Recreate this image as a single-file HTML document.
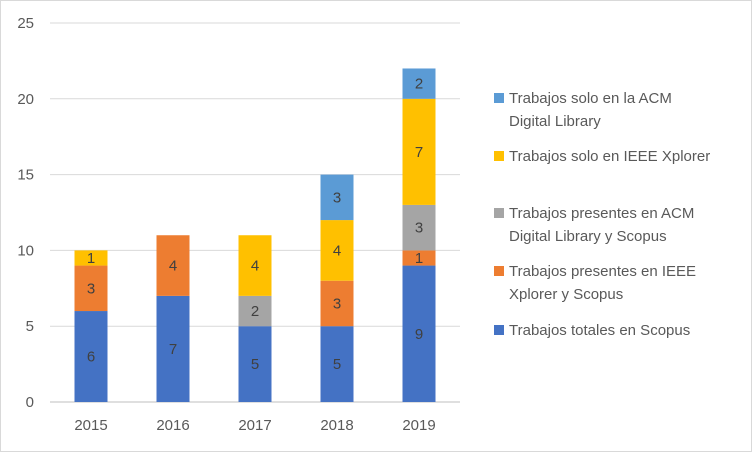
<!DOCTYPE html>
<html><head><meta charset="utf-8"><style>
body{margin:0;background:#fff;}
svg{display:block;font-family:"Liberation Sans",sans-serif;}
</style></head><body>
<svg id="chart" width="752" height="452">
<rect x="0.5" y="0.5" width="751" height="451" fill="#fff" stroke="#d9d9d9"/>
<g id="grid"></g><g id="bars"></g><g id="axes"></g><g id="legend"></g>
</svg>
<script>
const categories=["2015","2016","2017","2018","2019"];
const scopus=[6,7,5,5,9];
const ieeeScopus=[3,4,0,3,1];
const acmScopus=[0,0,2,0,3];
const ieeeOnly=[1,0,4,4,7];
const acmOnly=[0,0,0,3,2];
const yTicks=[0,5,10,15,20,25];
const seriesNames=["Trabajos totales en Scopus","Trabajos presentes en IEEE Xplorer y  Scopus","Trabajos presentes en ACM Digital Library y Scopus","Trabajos solo en IEEE Xplorer","Trabajos solo en la ACM Digital Library"];
const series=[scopus,ieeeScopus,acmScopus,ieeeOnly,acmOnly];
const colors=["#4472C4","#ED7D31","#A5A5A5","#FFC000","#5B9BD5"];
const NS="http://www.w3.org/2000/svg";
const y0=402,y25=23,left=50,right=460,band=82,bw=33;
function y(v){return y0-(y0-y25)*v/25;}
function xc(i){return left+band*(i+0.5);}
function mk(tag,attrs,parent,text){const e=document.createElementNS(NS,tag);for(const k in attrs)e.setAttribute(k,attrs[k]);if(text!==undefined)e.textContent=text;parent.appendChild(e);return e;}
const grid=document.getElementById('grid'),bars=document.getElementById('bars'),axes=document.getElementById('axes'),legend=document.getElementById('legend');
yTicks.forEach(t=>{
  const l=mk('line',{x1:left,x2:right,y1:y(t),y2:y(t),stroke:t===0?'#bfbfbf':'#d9d9d9','stroke-width':1},grid);
  
  
  const tx=mk('text',{x:34,y:y(t)+5,'text-anchor':'end','font-size':15,fill:'#595959'},axes,String(t));
  
  
});
categories.forEach((c,i)=>{
  const tx=mk('text',{x:xc(i),y:430,'text-anchor':'middle','font-size':15,fill:'#595959'},axes,c);
  
  
  let acc=0;
  series.forEach((s,k)=>{
    const v=s[i];if(!v)return;
    const r=mk('rect',{x:xc(i)-bw/2,y:y(acc+v),width:bw,height:y(acc)-y(acc+v),fill:colors[k]},bars);
    
    
    const lb=mk('text',{x:xc(i),y:(y(acc)+y(acc+v))/2+5,'text-anchor':'middle','font-size':15,fill:'#404040'},bars,String(v));
    
    
    acc+=v;
  });
});
const leg=[{k:4,y:98,lines:["Trabajos solo en la ACM","Digital Library"]},{k:3,y:156,lines:["Trabajos solo en IEEE Xplorer"]},{k:2,y:213,lines:["Trabajos presentes en ACM","Digital Library y Scopus"]},{k:1,y:271,lines:["Trabajos presentes en IEEE","Xplorer y  Scopus"]},{k:0,y:330,lines:["Trabajos totales en Scopus"]}];
leg.forEach(it=>{
  const g=mk('g',{},legend);
  
  
  mk('rect',{x:494,y:it.y-5,width:10,height:10,fill:colors[it.k]},g);
  it.lines.forEach((ln,j)=>mk('text',{x:509,y:it.y+5+j*23,'font-size':15,fill:'#595959'},g,ln));
});
</script>
</body></html>
